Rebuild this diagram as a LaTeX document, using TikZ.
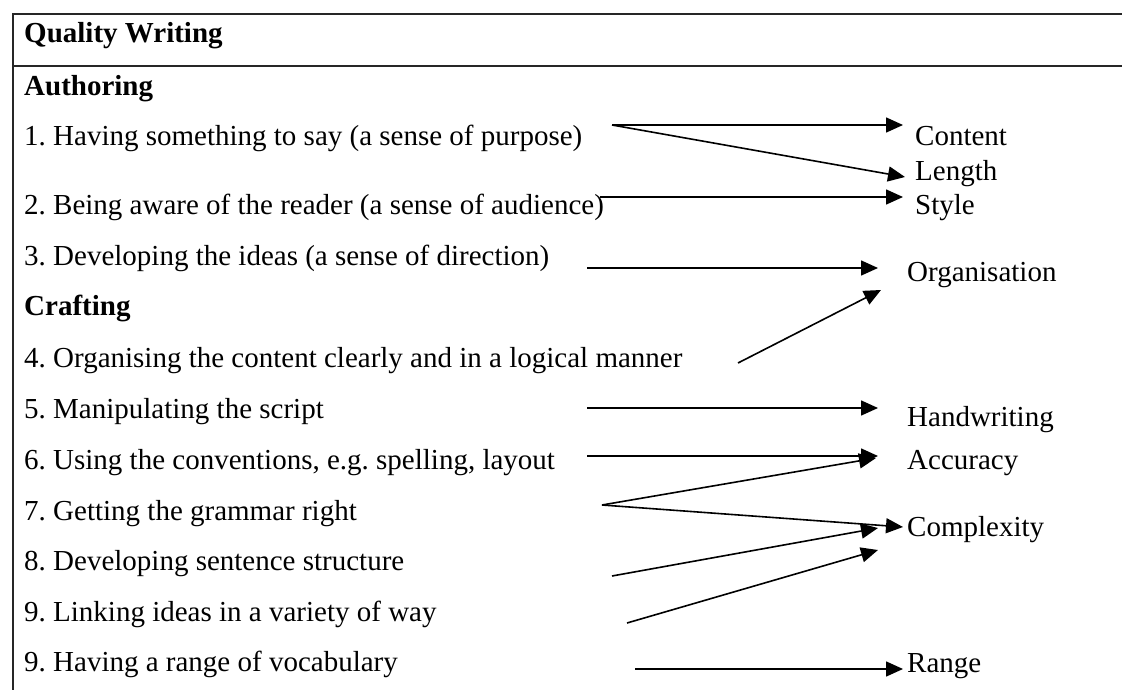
\documentclass[tikz,border=0pt]{standalone}
\usepackage{fontspec}
\setmainfont{Liberation Serif}
\usetikzlibrary{arrows.meta}
\begin{document}
\frenchspacing
\begin{tikzpicture}[x=1pt,y=-1pt,
  txt/.style={anchor=base west, inner sep=0pt, font=\fontsize{29}{34}\selectfont},
  hd/.style={anchor=base west, inner sep=0pt, font=\fontsize{29}{34}\selectfont\bfseries},
  arr/.style={line width=1.6pt, -{Triangle[length=17pt,width=15pt]}},
  frameline/.style={line width=1.5pt, draw=black!85}]
\useasboundingbox (0,0) rectangle (1122,690);
% frame
\coordinate (tl) at (13,14);
\coordinate (tr) at (1122,14);
\coordinate (ml) at (13,66);
\coordinate (mr) at (1122,66);
\coordinate (bl) at (13,690);
\draw[frameline] (tr) -- (tl) -- (bl);
\draw[frameline] (ml) -- (mr);
% left texts
\node[hd]  (qw)   at (24,43)  {Quality Writing};
\node[hd]  (auth) at (24,96)  {Authoring};
\node[txt] (i1)   at (24,146) {1. Having something to say (a sense of purpose)};
\node[txt] (i2)   at (24,214) {2. Being aware of the reader (a sense of audience)};
\node[txt] (i3)   at (24,265) {3. Developing the ideas (a sense of direction)};
\node[hd]  (craft) at (24,315) {Crafting};
\node[txt] (i4)   at (24,367) {4. Organising the content clearly and in a logical manner};
\node[txt] (i5)   at (24,418) {5. Manipulating the script};
\node[txt] (i6)   at (24,469) {6. Using the conventions, e.g. spelling, layout};
\node[txt] (i7)   at (24,520) {7. Getting the grammar right};
\node[txt] (i8)   at (24,570) {8. Developing sentence structure};
\node[txt] (i9a)  at (24,621) {9. Linking ideas in a variety of way};
\node[txt] (i9b)  at (24,671) {9. Having a range of vocabulary};
% right labels
\node[txt] (content) at (915,146) {Content};
\node[txt] (length)  at (915,180) {Length};
\node[txt] (style)   at (915,214) {Style};
\node[txt] (org)     at (907,281) {Organisation};
\node[txt] (hand)    at (907,426) {Handwriting};
\node[txt] (acc)     at (907,469) {Accuracy};
\node[txt] (comp)    at (907,536) {Complexity};
\node[txt] (range)   at (907,672) {Range};
% arrow endpoints
\coordinate (s1) at (612,125);
\coordinate (e1a) at (903,125);
\coordinate (e1b) at (905,177);
\coordinate (s2) at (600,197);
\coordinate (e2) at (903,197);
\coordinate (s3) at (587,268);
\coordinate (e3) at (878,268);
\coordinate (s4) at (738,363);
\coordinate (e4) at (881,290);
\coordinate (s5) at (587,408);
\coordinate (e5) at (878,408);
\coordinate (s6) at (587,456);
\coordinate (e6) at (878,456);
\coordinate (s7) at (602,505);
\coordinate (e7a) at (876,458);
\coordinate (e7b) at (903,527);
\coordinate (s8) at (612,576);
\coordinate (e8) at (878,528);
\coordinate (s9) at (627,623);
\coordinate (e9) at (878,550);
\coordinate (s10) at (635,669);
\coordinate (e10) at (903,669);
% arrows
\draw[arr] (s1) -- (e1a);
\draw[arr] (s1) -- (e1b);
\draw[arr] (s2) -- (e2);
\draw[arr] (s3) -- (e3);
\draw[arr] (s4) -- (e4);
\draw[arr] (s5) -- (e5);
\draw[arr] (s6) -- (e6);
\draw[arr] (s7) -- (e7a);
\draw[arr] (s7) -- (e7b);
\draw[arr] (s8) -- (e8);
\draw[arr] (s9) -- (e9);
\draw[arr] (s10) -- (e10);
\end{tikzpicture}
\end{document}
